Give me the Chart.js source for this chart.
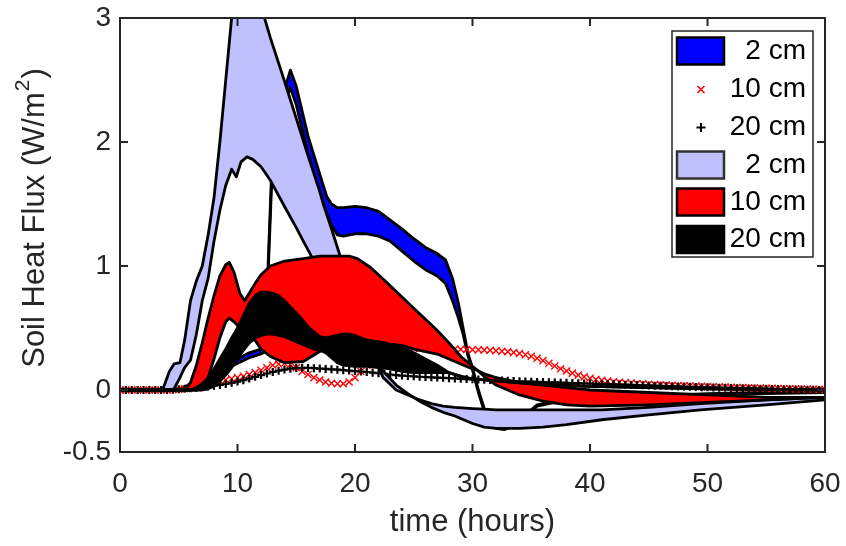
<!DOCTYPE html>
<html>
<head>
<meta charset="utf-8">
<title>Soil Heat Flux</title>
<script src="https://cdn.jsdelivr.net/npm/chart.js@4.4.1/dist/chart.umd.min.js"></script>
<style>
  html, body { margin: 0; padding: 0; background: #fff; }
  canvas { display: block; }
</style>
</head>
<body>
<canvas id="fluxChart" width="846" height="546"></canvas>
<script>
// axis ticks
const xTicks = [0, 10, 20, 30, 40, 50, 60];
const yTicks = [-0.5, 0, 1, 2, 3];

// measured flux (markers), every half hour
const markerHours = [
  0, 0.5, 1, 1.5, 2, 2.5, 3, 3.5, 4, 4.5,
  5, 5.5, 6, 6.5, 7, 7.5, 8, 8.5, 9, 9.5,
  10, 10.5, 11, 11.5, 12, 12.5, 13, 13.5, 14, 14.5,
  15, 15.5, 16, 16.5, 17, 17.5, 18, 18.5, 19, 19.5,
  20, 20.5, 21, 21.5, 22, 22.5, 23, 23.5, 24, 24.5,
  25, 25.5, 26, 26.5, 27, 27.5, 28, 28.5, 29, 29.5,
  30, 30.5, 31, 31.5, 32, 32.5, 33, 33.5, 34, 34.5,
  35, 35.5, 36, 36.5, 37, 37.5, 38, 38.5, 39, 39.5,
  40, 40.5, 41, 41.5, 42, 42.5, 43, 43.5, 44, 44.5,
  45, 45.5, 46, 46.5, 47, 47.5, 48, 48.5, 49, 49.5,
  50, 50.5, 51, 51.5, 52, 52.5, 53, 53.5, 54, 54.5,
  55, 55.5, 56, 56.5, 57, 57.5, 58, 58.5, 59, 59.5,
  60
];
const cross10 = [
  0, 0, 0, 0, 0, 0, 0, 0, 0, 0.002,
  0.005, 0.01, 0.02, 0.03, 0.04, 0.05, 0.06, 0.07, 0.08, 0.09,
  0.1, 0.11, 0.125, 0.14, 0.16, 0.18, 0.2, 0.21, 0.215, 0.205,
  0.18, 0.15, 0.125, 0.1, 0.08, 0.065, 0.055, 0.05, 0.05, 0.065,
  0.1, 0.15, 0.2, 0.24, 0.27, 0.3, 0.32, 0.33, 0.335, 0.335,
  0.335, 0.335, 0.335, 0.335, 0.335, 0.335, 0.333, 0.33, 0.328, 0.326,
  0.325, 0.324, 0.322, 0.32, 0.317, 0.313, 0.308, 0.302, 0.295, 0.285,
  0.272, 0.256, 0.237, 0.215, 0.193, 0.172, 0.153, 0.136, 0.12, 0.106,
  0.094, 0.085, 0.078, 0.072, 0.067, 0.063, 0.059, 0.056, 0.053, 0.05,
  0.047, 0.045, 0.042, 0.04, 0.038, 0.036, 0.034, 0.032, 0.03, 0.029,
  0.027, 0.026, 0.024, 0.023, 0.021, 0.02, 0.019, 0.018, 0.016, 0.015,
  0.014, 0.013, 0.012, 0.011, 0.01, 0.009, 0.008, 0.007, 0.006, 0.005,
  0.004
];
const plus20 = [
  0, 0, 0, 0, 0, 0, 0, 0, 0.001, 0.003,
  0.006, 0.01, 0.014, 0.019, 0.024, 0.029, 0.035, 0.041, 0.049, 0.058,
  0.068, 0.079, 0.092, 0.106, 0.12, 0.133, 0.145, 0.156, 0.165, 0.172,
  0.177, 0.179, 0.178, 0.176, 0.173, 0.17, 0.167, 0.164, 0.16, 0.157,
  0.153, 0.149, 0.145, 0.14, 0.135, 0.13, 0.125, 0.12, 0.116, 0.113,
  0.11, 0.107, 0.105, 0.102, 0.1, 0.098, 0.095, 0.093, 0.09, 0.088,
  0.086, 0.084, 0.082, 0.08, 0.078, 0.076, 0.074, 0.072, 0.07, 0.068,
  0.067, 0.065, 0.064, 0.062, 0.061, 0.059, 0.058, 0.056, 0.055, 0.053,
  0.052, 0.05, 0.049, 0.047, 0.046, 0.044, 0.043, 0.041, 0.04, 0.038,
  0.037, 0.035, 0.034, 0.032, 0.031, 0.029, 0.028, 0.026, 0.025, 0.023,
  0.022, 0.021, 0.019, 0.018, 0.017, 0.015, 0.014, 0.013, 0.012, 0.011,
  0.01, 0.009, 0.008, 0.007, 0.006, 0.005, 0.004, 0.003, 0.002, 0.001,
  0
];

// 2 cm envelope (dark blue)
const blueHours = [
  0, 5, 7, 9, 11, 12, 12.35, 12.6, 12.9, 13.5,
  14, 14.5, 15, 16, 17, 17.6, 18, 18.5, 19, 20,
  21, 22, 23, 24, 25, 26, 27, 27.7, 28.3, 28.8,
  29.2, 29.6, 30, 30.5, 31, 31.5, 32, 32.7, 33.5, 34.5,
  35.5, 37, 40, 45, 50, 55, 60
];
const blueUpper = [
  0, 0, 0.1, 0.2, 0.3, 0.33, 0.36, 1.0, 1.75, 2.15,
  2.42, 2.58, 2.45, 2.05, 1.74, 1.56, 1.5, 1.47, 1.47, 1.48,
  1.47, 1.44, 1.37, 1.3, 1.22, 1.15, 1.1, 1.05, 0.9, 0.7,
  0.5, 0.3, 0.18, 0.0, -0.15, -0.25, -0.3, -0.31, -0.28, -0.2,
  -0.12, -0.09, -0.07, -0.05, -0.03, -0.02, -0.01
];
const blueLower = [
  0, 0, 0.08, 0.17, 0.26, 0.29, 0.31, 0.92, 1.65, 2.05,
  2.3, 2.44, 2.3, 1.9, 1.6, 1.42, 1.33, 1.25, 1.24, 1.26,
  1.26, 1.24, 1.2, 1.12, 1.04, 0.97, 0.92, 0.86, 0.72, 0.58,
  0.45, 0.28, 0.16, -0.02, -0.17, -0.27, -0.31, -0.32, -0.29, -0.21,
  -0.13, -0.1, -0.08, -0.06, -0.04, -0.03, -0.02
];

// 2 cm envelope (light blue)
const lightHours = [
  0, 3.5, 3.7, 4.2, 4.6, 5.1, 5.5, 6, 6.5, 7,
  7.5, 8, 8.5, 9, 9.5, 9.9, 10.3, 10.8, 11.3, 12,
  12.3, 12.8, 14, 15, 15.6, 16, 17, 17.3, 18, 19,
  20, 20.7, 21.5, 22.4, 23.5, 24.5, 25.5, 26.5, 27.5, 28.5,
  30, 31, 32, 34, 36, 38, 41, 45, 49.4, 55,
  60
];
const lightUpper = [
  0, 0, 0.02, 0.15, 0.21, 0.22, 0.4, 0.72, 0.88, 1.0,
  1.25, 1.55, 2.0, 2.5, 3.0, 3.35, 3.55, 3.6, 3.5, 3.15,
  3.0, 2.84, 2.49, 2.19, 2.01, 1.89, 1.6, 1.5, 1.3, 1.0,
  0.73, 0.52, 0.3, 0.1, 0.0, -0.04, -0.08, -0.11, -0.13, -0.14,
  -0.15, -0.155, -0.16, -0.16, -0.16, -0.16, -0.16, -0.14, -0.11, -0.08,
  -0.06
];
const lightLower = [
  0, 0, 0, 0, 0.01, 0.1, 0.18, 0.24, 0.45, 0.72,
  0.9, 1.2, 1.45, 1.65, 1.78, 1.72, 1.84, 1.88, 1.86, 1.8,
  1.76, 1.69, 1.48, 1.31, 1.2, 1.13, 0.95, 0.9, 0.78, 0.6,
  0.45, 0.36, 0.26, 0.15, 0.04, -0.03, -0.09, -0.14, -0.18, -0.21,
  -0.27, -0.3, -0.31, -0.31, -0.3, -0.28, -0.24, -0.2, -0.16, -0.12,
  -0.08
];

// 10 cm envelope (red)
const redHours = [
  0, 5.5, 6, 6.5, 7, 7.5, 8, 8.5, 9, 9.3,
  9.7, 10.2, 10.6, 11, 11.5, 12, 12.8, 14, 15.6, 17,
  18.5, 19.5, 20.2, 21.3, 22, 23, 24, 25, 26, 27,
  28, 29, 30, 30.4, 31, 32, 33, 34, 36, 38,
  40, 45, 50, 55, 60
];
const redUpper = [
  0, 0, 0.06, 0.2, 0.38, 0.58, 0.76, 0.92, 1.01, 1.03,
  0.95, 0.78, 0.72, 0.78, 0.86, 0.93, 1.0, 1.04, 1.06, 1.08,
  1.08, 1.08, 1.06, 0.99, 0.93, 0.84, 0.75, 0.66, 0.57, 0.48,
  0.38, 0.27, 0.19, 0.16, 0.11, 0.04, 0.0, -0.04, -0.09, -0.12,
  -0.13, -0.12, -0.1, -0.08, -0.06
];
const redLower = [
  0, 0, 0, 0, 0.03, 0.1, 0.25, 0.42, 0.55, 0.58,
  0.55, 0.5, 0.46, 0.42, 0.4, 0.33, 0.27, 0.22, 0.23, 0.31,
  0.39, 0.4, 0.41, 0.4, 0.39, 0.37, 0.36, 0.33, 0.31, 0.29,
  0.25, 0.21, 0.17, 0.16, 0.13, 0.1, 0.08, 0.06, 0.04, 0.02,
  0.0, -0.02, -0.04, -0.06, -0.06
];

// 20 cm envelope (black)
const blackHours = [
  0, 6, 6.5, 7, 7.5, 8, 8.5, 9, 9.5, 10,
  10.5, 11, 11.5, 12, 12.5, 13, 13.5, 14, 14.5, 15,
  15.5, 16, 16.5, 17, 17.5, 18, 18.5, 19, 19.5, 20,
  21, 22, 23, 24, 25, 26, 27, 28, 29, 30,
  35, 40, 50, 60
];
const blackUpper = [
  0, 0, 0.02, 0.05, 0.1, 0.17, 0.25, 0.33, 0.42, 0.5,
  0.6, 0.7, 0.76, 0.79, 0.79, 0.78, 0.76, 0.72, 0.67, 0.62,
  0.57, 0.51, 0.47, 0.43, 0.42, 0.43, 0.44, 0.45, 0.45, 0.44,
  0.4, 0.37, 0.36, 0.34, 0.3, 0.25, 0.2, 0.14, 0.11, 0.09,
  0.05, 0.03, 0.01, 0
];
const blackLower = [
  0, 0, 0, 0, 0.01, 0.03, 0.07, 0.12, 0.18, 0.25,
  0.32, 0.38, 0.42, 0.44, 0.45, 0.45, 0.44, 0.43, 0.41, 0.39,
  0.37, 0.35, 0.33, 0.32, 0.3, 0.26, 0.22, 0.2, 0.195, 0.19,
  0.19, 0.18, 0.17, 0.15, 0.14, 0.14, 0.14, 0.14, 0.11, 0.09,
  0.05, 0.03, 0.01, 0
];

const legendLabels = ['2 cm', '10 cm', '20 cm', '2 cm', '10 cm', '20 cm'];

const axisColor = '#262626';
const fontFamily = "'Liberation Sans', Arial, Helvetica, sans-serif";

function pts(hours, vals) {
    return hours.map((t, i) => ({ x: t, y: vals[i] }));
}

// upper line fills down to the lower line (next dataset)
function band(hours, upper, lower, color, order) {
    return [
        {
            data: pts(hours, upper),
            borderColor: '#000',
            borderWidth: 2.8,
            borderJoinStyle: 'round',
            backgroundColor: color,
            fill: '+1',
            pointRadius: 0,
            order: order + 0.5
        },
        {
            data: pts(hours, lower),
            borderColor: '#000',
            borderWidth: 2.8,
            borderJoinStyle: 'round',
            fill: false,
            pointRadius: 0,
            order: order
        }
    ];
}

const frame = {
    id: 'frame',
    afterDatasetsDraw(chart) {
        const ctx = chart.ctx;
        const a = chart.chartArea;
        const xs = chart.scales.x, ys = chart.scales.y;
        const tick = 8;
        ctx.save();
        ctx.strokeStyle = axisColor;
        ctx.lineWidth = 2;
        ctx.strokeRect(a.left, a.top, a.right - a.left, a.bottom - a.top);
        ctx.beginPath();
        xTicks.forEach(v => {
            const px = xs.getPixelForValue(v);
            ctx.moveTo(px, a.bottom); ctx.lineTo(px, a.bottom - tick);
            ctx.moveTo(px, a.top); ctx.lineTo(px, a.top + tick);
        });
        yTicks.forEach(v => {
            const py = ys.getPixelForValue(v);
            ctx.moveTo(a.left, py); ctx.lineTo(a.left + tick, py);
            ctx.moveTo(a.right, py); ctx.lineTo(a.right - tick, py);
        });
        ctx.stroke();
        ctx.restore();
    },
    afterDraw(chart) {
        const ctx = chart.ctx;
        const a = chart.chartArea;
        ctx.save();
        // axis titles
        ctx.fillStyle = axisColor;
        ctx.font = '31px ' + fontFamily;
        ctx.textAlign = 'center';
        ctx.textBaseline = 'middle';
        ctx.fillText('time (hours)', (a.left + a.right) / 2, 522);

        // y title with a raised superscript
        const main = 'Soil Heat Flux (W/m', sup = '2', tail = ')';
        const bigFont = '31px ' + fontFamily, supFont = '21px ' + fontFamily;
        ctx.font = bigFont;
        const wMain = ctx.measureText(main).width, wTail = ctx.measureText(tail).width;
        ctx.font = supFont;
        const wSup = ctx.measureText(sup).width;
        const total = wMain + wSup + wTail;
        ctx.translate(35, 219);
        ctx.rotate(-Math.PI / 2);
        ctx.textAlign = 'left';
        let x0 = -total / 2;
        ctx.font = bigFont;
        ctx.fillText(main, x0, 0);
        ctx.font = supFont;
        ctx.fillText(sup, x0 + wMain + 1, -12);
        ctx.font = bigFont;
        ctx.fillText(tail, x0 + wMain + wSup + 2, 0);
        ctx.restore();

        // legend
        ctx.save();
        const lx = 672, ly = 31, lw = 141, lh = 226;
        ctx.fillStyle = '#fff';
        ctx.fillRect(lx, ly, lw, lh);
        ctx.strokeStyle = axisColor;
        ctx.lineWidth = 1.5;
        ctx.strokeRect(lx, ly, lw, lh);
        const rows = [51, 89.5, 127.5, 165, 202, 239.5];
        const patches = [
            { fill: '#0000ff', stroke: '#000' },
            null,
            null,
            { fill: '#c0c0ff', stroke: '#333' },
            { fill: '#ff0000', stroke: '#000' },
            { fill: '#000000', stroke: '#000' }
        ];
        ctx.font = '28px ' + fontFamily;
        ctx.textAlign = 'right';
        ctx.textBaseline = 'middle';
        rows.forEach((cy, i) => {
            const p = patches[i];
            if (p) {
                ctx.fillStyle = p.fill;
                ctx.fillRect(677, cy - 13.5, 47, 27);
                ctx.strokeStyle = p.stroke;
                ctx.lineWidth = 2.5;
                ctx.strokeRect(677, cy - 13.5, 47, 27);
            } else if (i === 1) {
                ctx.strokeStyle = '#ff0000';
                ctx.lineWidth = 1.5;
                ctx.beginPath();
                ctx.moveTo(697.5, cy - 3.5); ctx.lineTo(704.5, cy + 3.5);
                ctx.moveTo(704.5, cy - 3.5); ctx.lineTo(697.5, cy + 3.5);
                ctx.stroke();
            } else {
                ctx.strokeStyle = '#000';
                ctx.lineWidth = 2;
                ctx.beginPath();
                ctx.moveTo(696.5, cy); ctx.lineTo(705.5, cy);
                ctx.moveTo(701, cy - 4.5); ctx.lineTo(701, cy + 4.5);
                ctx.stroke();
            }
            ctx.fillStyle = '#000';
            ctx.fillText(legendLabels[i], 806, cy);
        });
        ctx.restore();
    }
};

const datasets = [
    ...band(blueHours, blueUpper, blueLower, '#0000ff', 10),
    {
        data: pts(markerHours, cross10),
        showLine: false,
        pointStyle: 'crossRot',
        pointRadius: 5,
        borderColor: '#ff0000',
        borderWidth: 1.4,
        order: 9
    },
    {
        data: pts(markerHours, plus20),
        showLine: false,
        pointStyle: 'cross',
        pointRadius: 4,
        borderColor: '#000',
        borderWidth: 2.2,
        order: 8
    },
    ...band(lightHours, lightUpper, lightLower, '#c0c0ff', 6),
    ...band(redHours, redUpper, redLower, '#ff0000', 4),
    ...band(blackHours, blackUpper, blackLower, '#000000', 2)
];

Chart.defaults.font.family = fontFamily;
Chart.defaults.color = axisColor;

new Chart(document.getElementById('fluxChart').getContext('2d'), {
    type: 'line',
    data: { datasets: datasets },
    options: {
        responsive: false,
        animation: false,
        devicePixelRatio: 1,
        layout: { padding: { top: 18, right: 21, bottom: 0, left: 0 } },
        plugins: {
            legend: { display: false },
            tooltip: { enabled: false },
            filler: { propagate: false }
        },
        scales: {
            x: {
                type: 'linear',
                min: 0,
                max: 60,
                grid: { display: false, drawTicks: false },
                border: { display: false },
                afterBuildTicks: s => { s.ticks = xTicks.map(v => ({ value: v })); },
                afterFit: s => { s.height = 94; s.paddingLeft = 0; s.paddingRight = 0; },
                ticks: { padding: 15, maxRotation: 0, autoSkip: false, font: { size: 28 }, color: axisColor }
            },
            y: {
                type: 'linear',
                min: -0.5,
                max: 3,
                grid: { display: false, drawTicks: false },
                border: { display: false },
                afterBuildTicks: s => { s.ticks = yTicks.map(v => ({ value: v })); },
                afterFit: s => { s.width = 120; s.paddingTop = 0; s.paddingBottom = 0; },
                ticks: { padding: 9, font: { size: 28 }, color: axisColor }
            }
        }
    },
    plugins: [frame]
});
</script>
</body>
</html>
